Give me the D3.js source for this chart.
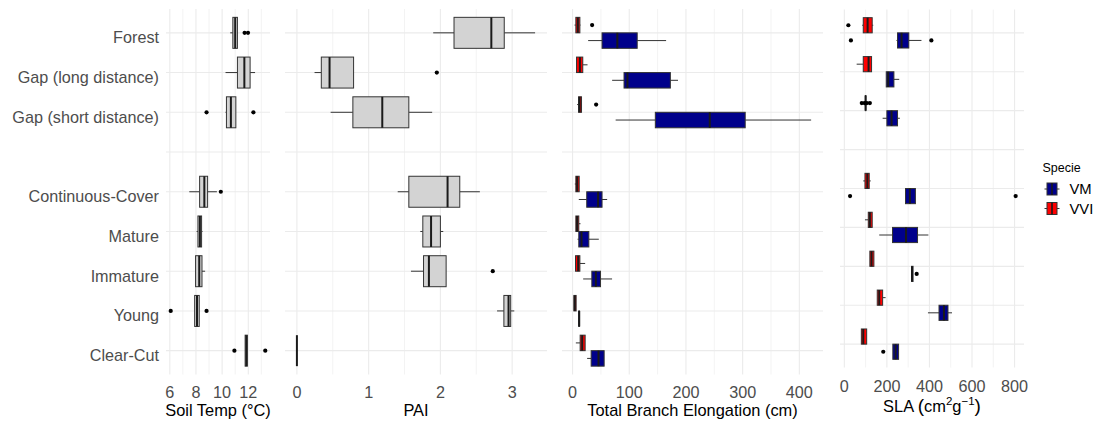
<!DOCTYPE html>
<html><head><meta charset="utf-8">
<script src="https://cdn.jsdelivr.net/npm/d3@7"></script>
<style>
html,body{margin:0;padding:0;background:#fff;}
svg{display:block;font-family:"Liberation Sans",Arial,Helvetica,sans-serif;}
</style></head>
<body>
<svg id="chart" width="1096" height="421"></svg>
<script>
// ---------------- DATA ----------------
const categories = ["Forest","Gap (long distance)","Gap (short distance)","__blank__","Continuous-Cover","Mature","Immature","Young","Clear-Cut"];
const species = ["VM","VVI"];
const speciesColors = ["#00008B","#FF0000"];

// [lowerWhisker, Q1, median, Q3, upperWhisker] per category (blank skipped -> null)
const soilStats = [
  [10.62,10.82,11.0,11.17,11.2],
  [10.26,11.17,11.70,12.14,12.52],
  [10.26,10.33,10.67,11.05,11.05],
  null,
  [7.49,8.28,8.64,8.89,9.6],
  [8.05,8.15,8.3,8.43,8.5],
  [7.97,7.97,8.25,8.46,8.7],
  [7.9,7.9,8.08,8.25,8.25],
  [11.76,11.76,11.85,11.93,11.93]
];
const soilOutliers = [[11.72,11.98],[],[8.81,12.39],[],[9.9],[],[],[6.07,8.81],[10.94,13.3]];

const paiStats = [
  [1.90,2.19,2.71,2.89,3.32],
  [0.246,0.34,0.455,0.79,0.79],
  [0.47,0.78,1.19,1.56,1.885],
  null,
  [1.405,1.56,2.10,2.27,2.55],
  [1.72,1.755,1.87,2.0,2.04],
  [1.59,1.765,1.84,2.08,2.08],
  [2.79,2.885,2.95,2.98,3.03],
  [0,0,0,0,0]
];
const paiOutliers = [[],[1.95],[],[],[],[],[2.73],[],[]];

const elongVM = [
  [27.5,52,79,114,165],
  [69.8,90.8,96.8,172.5,186],
  [76,146,242,304.5,420.8],
  null,
  [11,25,45,52,61],
  [8.8,11,15.8,28.7,46.3],
  [18.7,34,41,49.3,69.7],
  [10.5,10.8,11.7,12.3,12.9],
  [25.7,32.8,45.8,55.7,55.7]
];
const elongVMOutliers = [[],[],[],[],[],[],[],[],[]];
const elongVVI = [
  [3.5,5.8,9.3,12.9,14],
  [7,7,12.9,18,26.4],
  [8.1,10.5,12.5,15.8,15.8],
  null,
  [4,5.8,8.1,11.7,11.7],
  [5.8,5.8,8,11,14],
  [5.2,5.2,9.9,12.9,22.2],
  [2.3,2.3,4,6.3,6.3],
  [5.8,13.4,17,22.2,22.2]
];
const elongVVIOutliers = [[34.5],[],[41.6],[],[],[],[],[],[]];

const slaVM = [
  [245,250,269,303,362.5],
  [197,197,206,233,258],
  [180,200,222,250,261],
  null,
  [287.5,287.5,308,334,334],
  [164,226.5,290,344,395],
  [316,316,318,323,323],
  [393,445,468,487,506],
  [228,228,241,255,255]
];
const slaVMOutliers = [[31,409],[],[],[],[27,805],[],[340],[],[183]];
const slaVVI = [
  [84,89,109.5,131,136],
  [58,89,114,128,128],
  [98,99,100,101,101],
  null,
  [89,97,108,117,124],
  [97,112.6,120,131,131],
  [120,120,128,139,139],
  [154.7,154.7,164,180,194],
  [80,80,89,105,105]
];
const slaVVIOutliers = [[19],[],[82,95,106,120],[],[],[],[],[],[]];

const soilTicks = [6,8,10,12];
const paiTicks = [0,1,2,3];
const elongTicks = [0,100,200,300,400];
const slaTicks = [0,200,400,600,800];

// ---------------- DRAWING ----------------
const svg = d3.select("#chart");
const GRID = "#EBEBEB";
const LINE = "#333333";
const TICKCOL = "#4d4d4d";
const FS = 16.2;

function extentOf(groups){
  const vals = [];
  groups.forEach(g => {
    g.stats.forEach(s => { if (s) vals.push(...s); });
    g.outliers.forEach(o => vals.push(...o));
  });
  const [mn, mx] = d3.extent(vals);
  const pad = (mx - mn) * 0.05;
  return [mn - pad, mx + pad];
}

function panel(opts){
  const {x0, x1, y0, y1, groups, ticks, title, titleFn, showY, tickY, titleY} = opts;
  const g = svg.append("g");
  const x = d3.scaleLinear().domain(extentOf(groups)).range([x0, x1]);
  const y = d3.scalePoint().domain(categories).range([y0, y1]).padding(0.6);
  const step = y.step();
  // grid minor
  const tstep = ticks[1] - ticks[0];
  const dom = x.domain();
  const minors = [];
  for (let v = ticks[0] - tstep/2; v <= dom[1]; v += tstep) if (v >= dom[0]) minors.push(v);
  // horizontal grid
  g.selectAll(".hg").data(categories).enter().append("line")
    .attr("x1", x0).attr("x2", x1)
    .attr("y1", d => y(d)).attr("y2", d => y(d))
    .attr("stroke", GRID).attr("stroke-width", 1.1);
  g.selectAll(".mg").data(minors).enter().append("line")
    .attr("x1", d => x(d)).attr("x2", d => x(d))
    .attr("y1", y0).attr("y2", y1)
    .attr("stroke", GRID).attr("stroke-width", 0.6);
  g.selectAll(".vg").data(ticks).enter().append("line")
    .attr("x1", d => x(d)).attr("x2", d => x(d))
    .attr("y1", y0).attr("y2", y1)
    .attr("stroke", GRID).attr("stroke-width", 1.1);

  // boxes
  const n = groups.length;
  const totalW = step * 0.78;
  const bw = totalW / n;
  groups.forEach((grp, gi) => {
    const off = -totalW/2 + bw*gi + bw/2;
    categories.forEach((c, ci) => {
      const s = grp.stats[ci];
      if (!s) return;
      const cy = y(c) + off;
      const bg = g.append("g");
      bg.append("line").attr("x1", x(s[0])).attr("x2", x(s[1])).attr("y1", cy).attr("y2", cy)
        .attr("stroke", LINE).attr("stroke-width", 1);
      bg.append("line").attr("x1", x(s[3])).attr("x2", x(s[4])).attr("y1", cy).attr("y2", cy)
        .attr("stroke", LINE).attr("stroke-width", 1);
      bg.append("rect").attr("x", x(s[1])).attr("y", cy - bw/2)
        .attr("width", Math.max(0, x(s[3]) - x(s[1]))).attr("height", bw)
        .attr("fill", grp.color).attr("stroke", LINE).attr("stroke-width", 1);
      bg.append("line").attr("x1", x(s[2])).attr("x2", x(s[2]))
        .attr("y1", cy - bw/2).attr("y2", cy + bw/2)
        .attr("stroke", "#1a1a1a").attr("stroke-width", 2);
      bg.selectAll("circle").data(grp.outliers[ci]).enter().append("circle")
        .attr("cx", d => x(d)).attr("cy", cy).attr("r", 2.1).attr("fill", "#000");
    });
  });

  // x tick labels
  g.selectAll(".xt").data(ticks).enter().append("text")
    .attr("x", d => x(d)).attr("y", tickY)
    .attr("text-anchor", "middle").attr("dominant-baseline", "central")
    .attr("fill", TICKCOL).attr("font-size", FS)
    .text(d => d);
  // y tick labels
  if (showY) {
    g.selectAll(".yt").data(categories.filter(c => c !== "__blank__")).enter().append("text")
      .attr("x", x0 - 7).attr("y", d => y(d) + 4.3)
      .attr("text-anchor", "end").attr("dominant-baseline", "central")
      .attr("fill", TICKCOL).attr("font-size", FS)
      .text(d => d);
  }
  // title
  if (titleFn) titleFn(g, (x0 + x1)/2, titleY);
  else g.append("text").attr("x", (x0 + x1)/2).attr("y", titleY)
    .attr("text-anchor", "middle").attr("dominant-baseline", "central")
    .attr("fill", "#000").attr("font-size", 16.4).text(title);
}

panel({x0:166, x1:270, y0:9, y1:374.5,
  groups:[{stats:soilStats, outliers:soilOutliers, color:"#D3D3D3"}],
  ticks:soilTicks, title:"Soil Temp (°C)", showY:true, tickY:391.5, titleY:410});
panel({x0:285, x1:547, y0:9, y1:374.5,
  groups:[{stats:paiStats, outliers:paiOutliers, color:"#D3D3D3"}],
  ticks:paiTicks, title:"PAI", showY:false, tickY:391.5, titleY:410});
panel({x0:562, x1:823, y0:9, y1:374.5,
  groups:[{stats:elongVVI, outliers:elongVVIOutliers, color:speciesColors[1]},
          {stats:elongVM, outliers:elongVMOutliers, color:speciesColors[0]}],
  ticks:elongTicks, title:"Total Branch Elongation (cm)", showY:false, tickY:391.5, titleY:410});
panel({x0:840, x1:1024, y0:9.5, y1:367.5,
  groups:[{stats:slaVVI, outliers:slaVVIOutliers, color:speciesColors[1]},
          {stats:slaVM, outliers:slaVMOutliers, color:speciesColors[0]}],
  ticks:slaTicks, showY:false, tickY:385.5, titleY:406,
  titleFn:(g, cx, cy) => {
    const t = g.append("text").attr("x", cx).attr("y", cy + 5.5)
      .attr("text-anchor", "middle").attr("fill", "#000").attr("font-size", 16.4);
    t.append("tspan").text("SLA ");
    t.append("tspan").attr("font-size", 19).text("(");
    t.append("tspan").text("cm");
    t.append("tspan").attr("font-size", 11.5).attr("dy", -7).text("2");
    t.append("tspan").attr("dy", 7).text("g");
    t.append("tspan").attr("font-size", 11.5).attr("dy", -7).text("\u22121");
    t.append("tspan").attr("dy", 7).attr("font-size", 19).text(")");
  }});

// legend
const lg = svg.append("g");
lg.append("text").attr("x", 1042.5).attr("y", 168).attr("dominant-baseline", "central")
  .attr("font-size", 12.5).attr("fill", "#000").text("Specie");
species.forEach((sp, i) => {
  const cy = 189 + i*19.5;
  lg.append("line").attr("x1", 1044.5).attr("x2", 1059.5).attr("y1", cy).attr("y2", cy)
    .attr("stroke", LINE).attr("stroke-width", 1);
  lg.append("rect").attr("x", 1047).attr("y", cy - 6).attr("width", 10).attr("height", 12)
    .attr("fill", speciesColors[i]).attr("stroke", LINE).attr("stroke-width", 1);
  lg.append("line").attr("x1", 1052).attr("x2", 1052).attr("y1", cy - 6).attr("y2", cy + 6)
    .attr("stroke", "#1a1a1a").attr("stroke-width", 1.6);
  lg.append("text").attr("x", 1069.5).attr("y", cy).attr("dominant-baseline", "central")
    .attr("font-size", 14.8).attr("fill", "#000").text(sp);
});
</script>
</body></html>
